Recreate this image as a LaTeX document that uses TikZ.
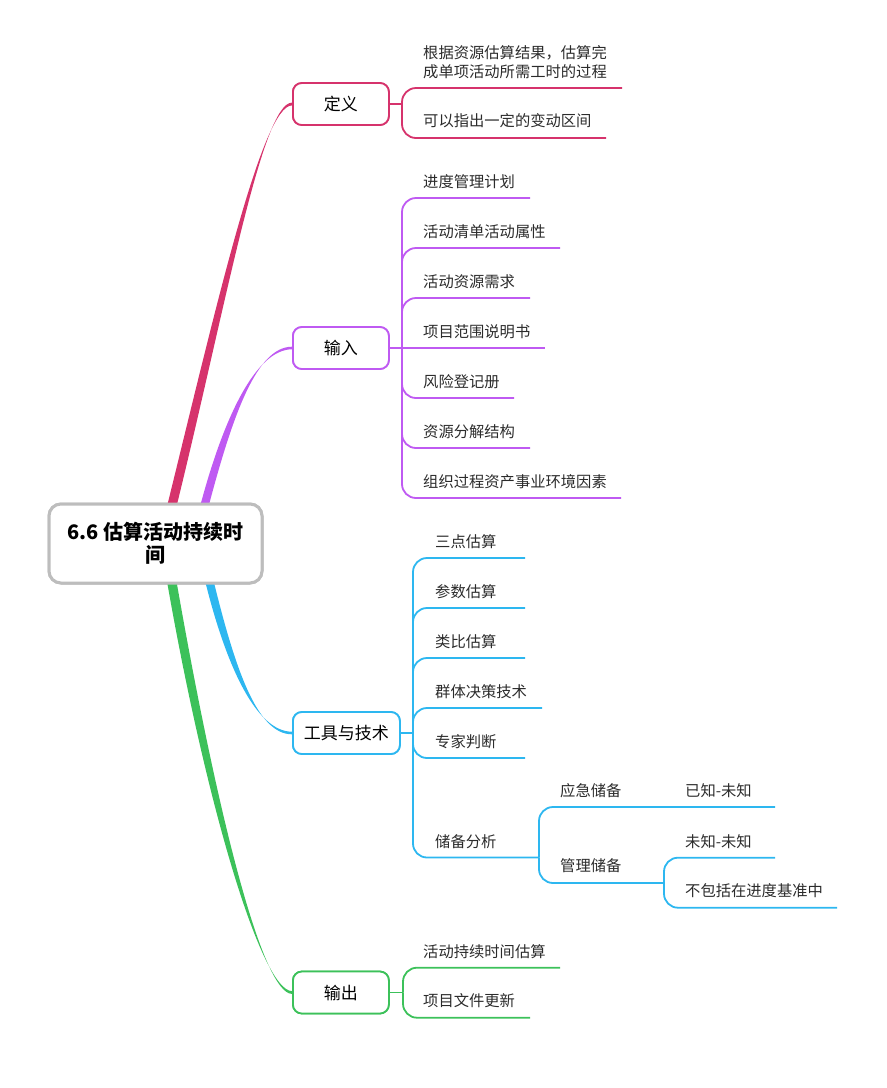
\documentclass[tikz,border=0pt]{standalone}
\usepackage{fontspec}
\setmainfont{Noto Sans CJK SC}
\definecolor{cpink}{HTML}{D6336C}
\definecolor{cpurple}{HTML}{BF5AF2}
\definecolor{cblue}{HTML}{2DB7F0}
\definecolor{cgreen}{HTML}{3CC15A}
\definecolor{cgray}{HTML}{BDBDBD}
\definecolor{ctext}{HTML}{2B2B2B}
\begin{document}
\begin{tikzpicture}[x=1pt,y=-1pt,
  rootbox/.style={draw=cgray, line width=3pt, rounded corners=12pt, fill=white,
    minimum width=213pt, minimum height=79pt, align=center, text=black,
    font=\fontsize{20}{23}\selectfont\bfseries},
  branchbox/.style={draw=#1, line width=1.8pt, rounded corners=9pt, fill=white,
    minimum width=96pt, minimum height=42pt, inner xsep=11pt, anchor=west, text=black,
    font=\fontsize{17}{20}\selectfont},
  leaf/.style={anchor=west, inner sep=0pt, text=ctext, align=left,
    font=\fontsize{15.3}{19}\selectfont},
  link/.style={draw=#1, line width=1.8pt, rounded corners=14pt},
]
\useasboundingbox (0,0) rectangle (887,1088);

% branch nodes
\node[branchbox=cpink] (def) at (292,104) {定义};
\node[branchbox=cpurple] (inp) at (292,348) {输入};
\node[branchbox=cblue] (tools) at (292,733) {工具与技术};
\node[branchbox=cgreen] (out) at (292,992.5) {输出};

% root node
\node[rootbox] (root) at (155.5,543.5) {6.6 估算活动持续时\\间};

% tapered main connectors
\fill[cpink] ([xshift=119pt,yshift=-6pt]root.north west) .. controls +(50,-203) and +(-30,0) .. ([yshift=-1.4pt]def.west)
  -- ([yshift=1.4pt]def.west) .. controls +(-30,0) and +(50,-203) .. ([xshift=128.5pt,yshift=-6pt]root.north west) -- cycle;
\fill[cpurple] ([xshift=152pt,yshift=-6pt]root.north west) .. controls +(25,-95) and +(-35,0) .. ([yshift=-1.3pt]inp.west)
  -- ([yshift=1.3pt]inp.west) .. controls +(-35,0) and +(25,-95) .. ([xshift=160.5pt,yshift=-6pt]root.north west) -- cycle;
\fill[cblue] ([xshift=157pt,yshift=6pt]root.south west) .. controls +(22,90) and +(-35,0) .. ([yshift=1.3pt]tools.west)
  -- ([yshift=-1.3pt]tools.west) .. controls +(-35,0) and +(22,90) .. ([xshift=165.5pt,yshift=6pt]root.south west) -- cycle;
\fill[cgreen] ([xshift=119pt,yshift=6pt]root.south west) .. controls +(40,230) and +(-30,0) .. ([yshift=1.4pt]out.west)
  -- ([yshift=-1.4pt]out.west) .. controls +(-30,0) and +(40,230) .. ([xshift=128.5pt,yshift=6pt]root.south west) -- cycle;

% redraw boxes on top of the connector ends
\node[rootbox] at (root) {6.6 估算活动持续时\\间};
\node[branchbox=cpink] at (def.west) {定义};
\node[branchbox=cpurple] at (inp.west) {输入};
\node[branchbox=cblue] at (tools.west) {工具与技术};
\node[branchbox=cgreen] at (out.west) {输出};

% ---------- 定义 ----------
\coordinate (J1) at (402,104);
\draw[link=cpink] (def.east) -- (J1);
\node[leaf] (d1) at (423,62.5) {根据资源估算结果，估算完\\成单项活动所需工时的过程};
\node[leaf] (d2) at (423,121) {可以指出一定的变动区间};
\coordinate (d1e) at (622,88);
\coordinate (d2e) at (606,138);
\draw[link=cpink] (J1) |- (d1e);
\draw[link=cpink] (J1) |- (d2e);

% ---------- 输入 ----------
\coordinate (J2) at (402,348);
\draw[link=cpurple] (inp.east) -- (J2);
\node[leaf] (i1) at (423,182) {进度管理计划};
\node[leaf] (i2) at (423,232) {活动清单活动属性};
\node[leaf] (i3) at (423,282) {活动资源需求};
\node[leaf] (i4) at (423,332) {项目范围说明书};
\node[leaf] (i5) at (423,382) {风险登记册};
\node[leaf] (i6) at (423,432) {资源分解结构};
\node[leaf] (i7) at (423,482) {组织过程资产事业环境因素};
\coordinate (i1e) at (530,198);
\coordinate (i2e) at (560,248);
\coordinate (i3e) at (530,298);
\coordinate (i4e) at (545,348);
\coordinate (i5e) at (514,398);
\coordinate (i6e) at (530,448);
\coordinate (i7e) at (621,498);
\draw[link=cpurple] (J2) |- (i1e);
\draw[link=cpurple] (J2) |- (i2e);
\draw[link=cpurple] (J2) |- (i3e);
\draw[link=cpurple] (J2) -- (i4e);
\draw[link=cpurple] (J2) |- (i5e);
\draw[link=cpurple] (J2) |- (i6e);
\draw[link=cpurple] (J2) |- (i7e);

% ---------- 工具与技术 ----------
\coordinate (J3) at (413,733);
\draw[link=cblue] (tools.east) -- (J3);
\node[leaf] (t1) at (435,541.7) {三点估算};
\node[leaf] (t2) at (435,591.7) {参数估算};
\node[leaf] (t3) at (435,641.7) {类比估算};
\node[leaf] (t4) at (435,691.7) {群体决策技术};
\node[leaf] (t5) at (435,741.7) {专家判断};
\node[leaf] (t6) at (435,841.7) {储备分析};
\coordinate (t1e) at (525,558);
\coordinate (t2e) at (525,608);
\coordinate (t3e) at (525,658);
\coordinate (t4e) at (542,708);
\coordinate (t5e) at (525,758);
\coordinate (J4) at (539,857.5);
\draw[link=cblue] (J3) |- (t1e);
\draw[link=cblue] (J3) |- (t2e);
\draw[link=cblue] (J3) |- (t3e);
\draw[link=cblue] (J3) |- (t4e);
\draw[link=cblue] (J3) |- (t5e);
\draw[link=cblue] (J3) |- (J4);

\node[leaf] (r1) at (560,791) {应急储备};
\node[leaf] (r2) at (560,866) {管理储备};
\node[leaf] (r1a) at (685,791) {已知-未知};
\coordinate (r1ae) at (775,807);
\coordinate (J5) at (664,883);
\draw[link=cblue] (J4) |- (r1ae);
\draw[link=cblue] (J4) |- (J5);

\node[leaf] (r2a) at (685,841.7) {未知-未知};
\node[leaf] (r2b) at (685,891) {不包括在进度基准中};
\coordinate (r2ae) at (775,857.7);
\coordinate (r2be) at (837,907.7);
\draw[link=cblue] (J5) |- (r2ae);
\draw[link=cblue] (J5) |- (r2be);

% ---------- 输出 ----------
\coordinate (J6) at (403,992.5);
\draw[link=cgreen] (out.east) -- (J6);
\node[leaf] (o1) at (423,951.7) {活动持续时间估算};
\node[leaf] (o2) at (423,1000.7) {项目文件更新};
\coordinate (o1e) at (560,967.7);
\coordinate (o2e) at (530,1017.7);
\draw[link=cgreen] (J6) |- (o1e);
\draw[link=cgreen] (J6) |- (o2e);
\end{tikzpicture}
\end{document}
